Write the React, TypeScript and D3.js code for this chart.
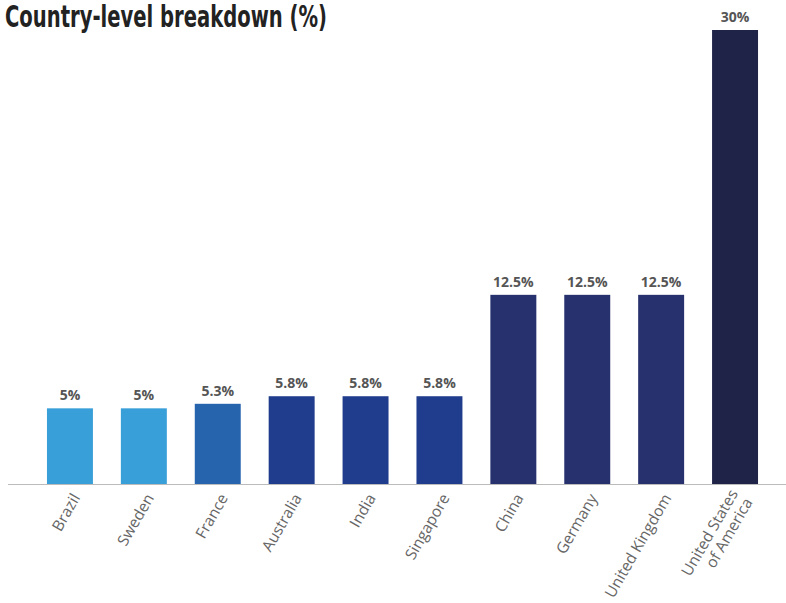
import React from "react";
import * as d3 from "d3";

const categories: string[][] = [
  ["Brazil"],
  ["Sweden"],
  ["France"],
  ["Australia"],
  ["India"],
  ["Singapore"],
  ["China"],
  ["Germany"],
  ["United Kingdom"],
  ["United States", "of America"],
];
const values: number[] = [5, 5, 5.3, 5.8, 5.8, 5.8, 12.5, 12.5, 12.5, 30];
const valueLabels: string[] = ["5%", "5%", "5.3%", "5.8%", "5.8%", "5.8%", "12.5%", "12.5%", "12.5%", "30%"];
const barColors: string[] = [
  "#399fd8", "#399fd8", "#2664ad", "#1f3d8c", "#1f3d8c", "#1f3d8c",
  "#27316e", "#27316e", "#27316e", "#1f2348",
];
const title = "Country-level breakdown (%)";

const W = 786;
const H = 603;
const baseY = 484;
const plotLeft = 10;
const plotRight = 795;

export default function App() {
  const keys = categories.map((c) => c.join(" "));
  const x = d3.scaleBand<string>().domain(keys).range([33, 772]).paddingInner(0.378).paddingOuter(0.189);
  const y = d3.scaleLinear().domain([0, 30]).range([baseY, 30]);

  return (
    <svg width={W} height={H} style={{ position: "absolute", left: 0, top: 0, background: "#fff" }}>
      <text
        x={5}
        y={27}
        fontFamily="'Liberation Sans Narrow', 'DejaVu Sans Condensed', sans-serif"
        fontWeight={700}
        fontSize={30}
        fill="#222"
        textLength={322}
        lengthAdjust="spacingAndGlyphs"
      >
        {title}
      </text>
      {values.map((v, i) => {
        const k = keys[i];
        const bx = x(k)!;
        return (
          <g key={k}>
            <rect x={bx} y={y(v)} width={x.bandwidth()} height={baseY - y(v)} fill={barColors[i]} />
            <text
              x={bx + x.bandwidth() / 2}
              y={y(v) - 8}
              textAnchor="middle"
              fontFamily="'Open Sans', sans-serif"
              fontWeight={700}
              fontSize={14}
              fill="#555"
            >
              {valueLabels[i]}
            </text>
          </g>
        );
      })}
      <line x1={plotLeft - 2} x2={plotRight} y1={baseY + 0.5} y2={baseY + 0.5} stroke="#bbb" strokeWidth={1.2} />
      {categories.map((lines, i) => {
        const k = keys[i];
        const cx = x(k)! + x.bandwidth() / 2;
        const n = lines.length;
        return (
          <text
            key={k}
            transform={`translate(${cx + 6},${baseY + 11}) rotate(-60)`}
            textAnchor="end"
            fontFamily="'Open Sans', sans-serif"
            fontWeight={400}
            fontSize={15.5}
            fill="#666"
          >
            {lines.map((l, j) => (
              <tspan key={j} x={0} y={(j - (n - 1) / 2) * 17} dy="0.35em">
                {l}
              </tspan>
            ))}
          </text>
        );
      })}
    </svg>
  );
}
